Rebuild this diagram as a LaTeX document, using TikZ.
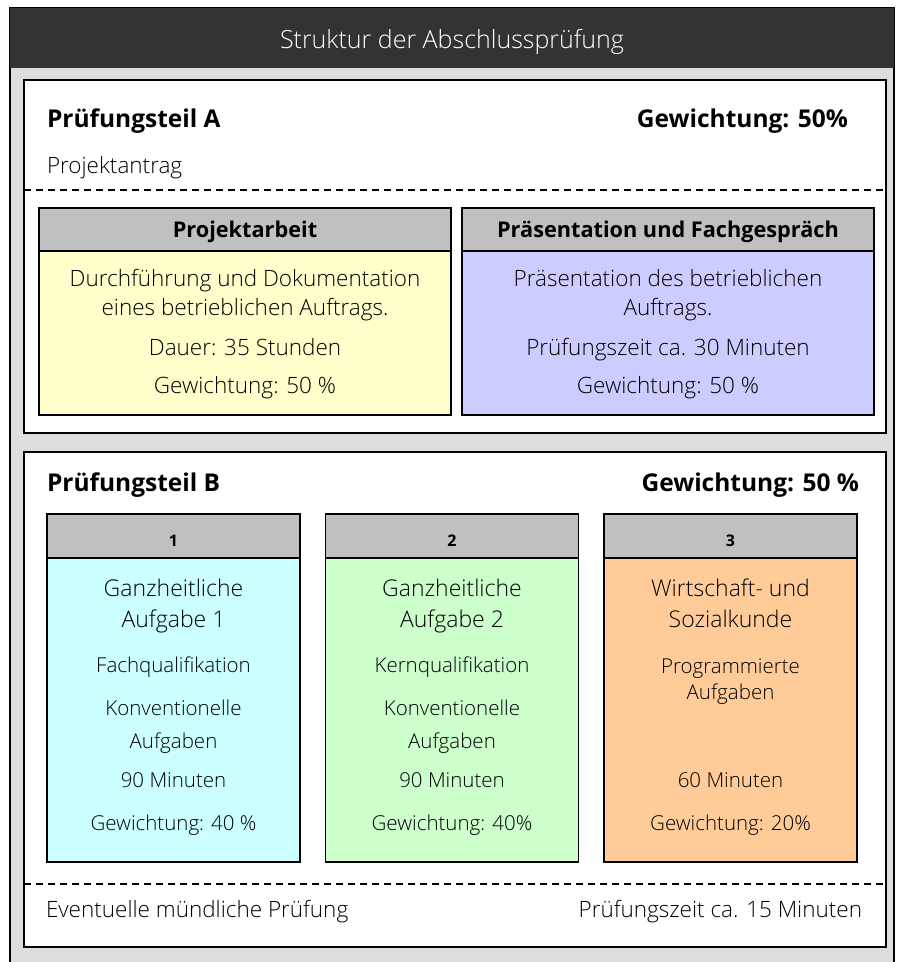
\documentclass[tikz,border=0pt]{standalone}
\usepackage{fontspec}
\IfFontExistsTF{Open Sans SemiBold}
  {\newcommand\boldface{Open Sans SemiBold}}
  {\newcommand\boldface{Open Sans Bold}}
\IfFontExistsTF{Open Sans Light}
  {\setmainfont{Open Sans Light}[BoldFont=\boldface]}
  {\setmainfont{Open Sans}}
\usetikzlibrary{positioning}

\definecolor{titlegray}{HTML}{333333}
\definecolor{framegray}{HTML}{DDDDDD}
\definecolor{headgray}{HTML}{C0C0C0}
\definecolor{paleyellow}{HTML}{FFFFCC}
\definecolor{palelilac}{HTML}{CCCCFF}
\definecolor{palecyan}{HTML}{CCFFFF}
\definecolor{palegreen}{HTML}{CCFFCC}
\definecolor{paleorange}{HTML}{FFCC99}

\begin{document}
\begin{tikzpicture}
    [x=1pt, y=-1pt, line width=1.4pt,
     every node/.style={inner sep=0pt, outer sep=0pt},
     titlebar/.style={fill=titlegray, minimum width=884pt, minimum height=60pt},
     titletext/.style={anchor=base, text=white, font=\fontsize{25}{30}\selectfont},
     panel/.style={draw, fill=white, minimum width=862pt},
     bigbold/.style={font=\bfseries\fontsize{24.5}{28}\selectfont},
     plain/.style={font=\fontsize{22.5}{26}\selectfont},
     headA/.style={draw, fill=headgray, minimum width=412pt, minimum height=43pt},
     bodyA/.style={draw, minimum width=412pt, minimum height=164pt},
     headB/.style={draw, fill=headgray, minimum width=253pt, minimum height=44pt},
     bodyB/.style={draw, minimum width=253pt, minimum height=304pt},
     headtxt/.style={anchor=base, font=\bfseries\fontsize{21.7}{25}\selectfont},
     numtxt/.style={anchor=base, font=\bfseries\fontsize{16}{20}\selectfont},
     txtA/.style={anchor=base, font=\fontsize{22.5}{26}\selectfont},
     txtbig/.style={anchor=base, font=\fontsize{23}{28}\selectfont},
     txtsmall/.style={anchor=base, font=\fontsize{20.5}{24}\selectfont},
     cut/.style={dashed, dash pattern=on 7pt off 5pt, line width=1.2pt}]

    \useasboundingbox (0,0) rectangle (904,962);
    \fill[framegray] (10,8) rectangle (894,975);
    \draw (10,975) -- (10,8) -- (894,8) -- (894,975);

    \node (title) [titlebar] at (452,38) {};
    \node (title txt) [titletext] at (452,48) {Struktur der Abschlussprüfung};

    % Pruefungsteil A
    \node (teilA) [panel, minimum height=353pt] at (455,256.5) {};
    \node (teilA name) [bigbold, anchor=base west] at (47,127) {Prüfungsteil A};
    \node (teilA weight) [bigbold, anchor=base east] at (848,127) {Gewichtung: 50\%};
    \node (antrag) [plain, anchor=base west] at (47,173) {Projektantrag};
    \coordinate (cutA) at (0,190);
    \draw[cut] (teilA.west |- cutA) -- (teilA.east |- cutA);

    \node (arbeit head) [headA] at (245,229.5) {};
    \node (arbeit body) [bodyA, fill=paleyellow, below=0pt of arbeit head] {};
    \node (arbeit name) [headtxt] at (245,237) {Projektarbeit};
    \node (arbeit txt1) [txtA] at (245,286) {Durchführung und Dokumentation};
    \node (arbeit txt2) [txtA] at (245,315) {eines betrieblichen Auftrags.};
    \node (arbeit txt3) [txtA] at (245,355) {Dauer: 35 Stunden};
    \node (arbeit txt4) [txtA] at (245,393) {Gewichtung: 50 \%};

    \node (praes head) [headA] at (668,229.5) {};
    \node (praes body) [bodyA, fill=palelilac, below=0pt of praes head] {};
    \node (praes name) [headtxt] at (668,237) {Präsentation und Fachgespräch};
    \node (praes txt1) [txtA] at (668,286) {Präsentation des betrieblichen};
    \node (praes txt2) [txtA] at (668,315) {Auftrags.};
    \node (praes txt3) [txtA] at (668,355) {Prüfungszeit ca. 30 Minuten};
    \node (praes txt4) [txtA] at (668,393) {Gewichtung: 50 \%};

    % Pruefungsteil B
    \node (teilB) [panel, minimum height=495pt] at (455,699.5) {};
    \node (teilB name) [bigbold, anchor=base west] at (47,491) {Prüfungsteil B};
    \node (teilB weight) [bigbold, anchor=base east] at (859,491) {Gewichtung: 50 \%};

    \node (ga1 head) [headB] at (173.5,536) {};
    \node (ga1 body) [bodyB, fill=palecyan, below=0pt of ga1 head] {};
    \node (ga1 num) [numtxt] at (173.5,546) {1};
    \node (ga1 txt1) [txtbig] at (173.5,596) {Ganzheitliche};
    \node (ga1 txt2) [txtbig] at (173.5,627) {Aufgabe 1};
    \node (ga1 txt3) [txtsmall] at (173.5,672) {Fachqualifikation};
    \node (ga1 txt4) [txtsmall] at (173.5,715) {Konventionelle};
    \node (ga1 txt5) [txtsmall] at (173.5,748) {Aufgaben};
    \node (ga1 txt6) [txtsmall] at (173.5,787) {90 Minuten};
    \node (ga1 txt7) [txtsmall] at (173.5,830) {Gewichtung: 40 \%};

    \node (ga2 head) [headB] at (452,536) {};
    \node (ga2 body) [bodyB, fill=palegreen, below=0pt of ga2 head] {};
    \node (ga2 num) [numtxt] at (452,546) {2};
    \node (ga2 txt1) [txtbig] at (452,596) {Ganzheitliche};
    \node (ga2 txt2) [txtbig] at (452,627) {Aufgabe 2};
    \node (ga2 txt3) [txtsmall] at (452,672) {Kernqualifikation};
    \node (ga2 txt4) [txtsmall] at (452,715) {Konventionelle};
    \node (ga2 txt5) [txtsmall] at (452,748) {Aufgaben};
    \node (ga2 txt6) [txtsmall] at (452,787) {90 Minuten};
    \node (ga2 txt7) [txtsmall] at (452,830) {Gewichtung: 40\%};

    \node (wiso head) [headB] at (730.5,536) {};
    \node (wiso body) [bodyB, fill=paleorange, below=0pt of wiso head] {};
    \node (wiso num) [numtxt] at (730.5,546) {3};
    \node (wiso txt1) [txtbig] at (730.5,596) {Wirtschaft- und};
    \node (wiso txt2) [txtbig] at (730.5,627) {Sozialkunde};
    \node (wiso txt3) [txtsmall] at (730.5,673) {Programmierte};
    \node (wiso txt4) [txtsmall] at (730.5,699) {Aufgaben};
    \node (wiso txt6) [txtsmall] at (730.5,787) {60 Minuten};
    \node (wiso txt7) [txtsmall] at (730.5,830) {Gewichtung: 20\%};

    \coordinate (cutB) at (0,884);
    \draw[cut] (teilB.west |- cutB) -- (teilB.east |- cutB);
    \node (muendlich) [plain, anchor=base west] at (46,917) {Eventuelle mündliche Prüfung};
    \node (muendlich zeit) [plain, anchor=base east] at (862,917) {Prüfungszeit ca. 15 Minuten};
\end{tikzpicture}
\end{document}
